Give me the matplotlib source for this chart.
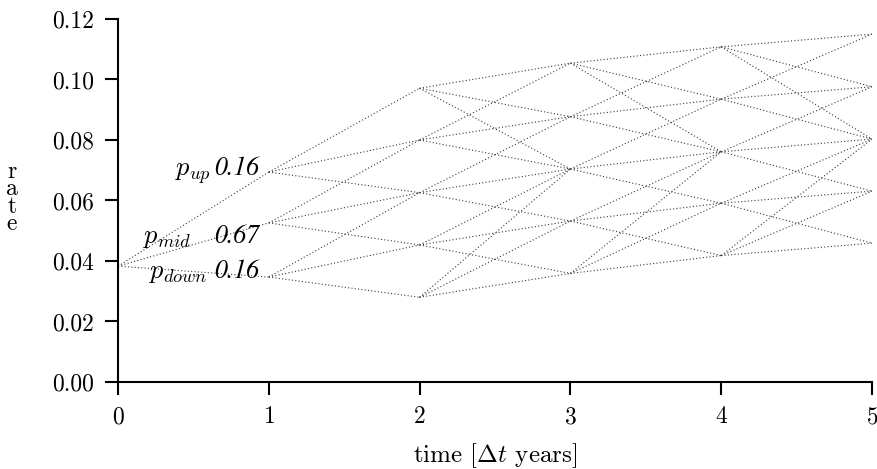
import matplotlib
matplotlib.use("Agg")
import matplotlib.pyplot as plt

# node rates of the trinomial tree, one list per time step (bottom -> top)
times = [0, 1, 2, 3, 4, 5]
rates_t0 = [0.0383]
rates_t1 = [0.0347, 0.0526, 0.0694]
rates_t2 = [0.0280, 0.0453, 0.0626, 0.0800, 0.0971]
rates_t3 = [0.0359, 0.0532, 0.0704, 0.0877, 0.1054]
rates_t4 = [0.0418, 0.0591, 0.0761, 0.0935, 0.1108]
rates_t5 = [0.0459, 0.0631, 0.0803, 0.0976, 0.1150]
levels = [rates_t0, rates_t1, rates_t2, rates_t3, rates_t4, rates_t5]

prob_labels = [r"$p_{up}$", r"$p_{mid}$", r"$p_{down}$"]
prob_values = ["0.16", "0.67", "0.16"]

plt.rcParams["font.family"] = "serif"
plt.rcParams["font.serif"] = ["cmr10"]
plt.rcParams["mathtext.fontset"] = "cm"
plt.rcParams["axes.formatter.use_mathtext"] = True

fig = plt.figure(figsize=(8.78, 4.69), dpi=100)
ax = fig.add_axes([0.1344, 0.1855, 0.8588, 0.774])

# connect every node to its three successors (branching is clipped at the edges)
for i in range(len(levels) - 1):
    cur, nxt = levels[i], levels[i + 1]
    m_cur = (len(cur) - 1) // 2
    m_nxt = (len(nxt) - 1) // 2
    for a, r in enumerate(cur):
        j = a - m_cur
        k = min(max(j, -m_nxt + 1), m_nxt - 1)
        for d in (-1, 0, 1):
            b = k + d + m_nxt
            ax.plot([times[i], times[i + 1]], [r, nxt[b]], color="#3a3a3a",
                    linestyle=(0, (1, 2)), linewidth=0.8)

# probability annotations next to the t=1 nodes
lab_y = [0.0684, 0.0460, 0.0344]
lab_right = [0.615, 0.49, 0.595]
for lbl, val, y, lx in zip(prob_labels, prob_values, lab_y, lab_right):
    ax.text(0.94, y, val, ha="right", va="baseline", fontsize=18.5,
            family="STIXGeneral", style="italic")
    ax.text(lx, y, lbl, ha="right", va="baseline", fontsize=19)

ax.set_xlim(0, 5)
ax.set_ylim(0, 0.12)
ax.set_xticks([0, 1, 2, 3, 4, 5])
ax.set_yticks([0.00, 0.02, 0.04, 0.06, 0.08, 0.10, 0.12])
ax.set_yticklabels(["0.00", "0.02", "0.04", "0.06", "0.08", "0.10", "0.12"])
ax.tick_params(direction="out", length=9.5, width=1.5, labelsize=17, pad=8)
for side in ("top", "right"):
    ax.spines[side].set_visible(False)
for side in ("left", "bottom"):
    ax.spines[side].set_linewidth(1.5)

ax.set_xlabel(r"time [$\Delta t$ years]", fontsize=18, labelpad=9)
fig.text(0.0137, 0.578, "r\na\nt\ne", ha="center", va="center", fontsize=17,
         linespacing=0.72)

plt.savefig("out.png", dpi=100)
